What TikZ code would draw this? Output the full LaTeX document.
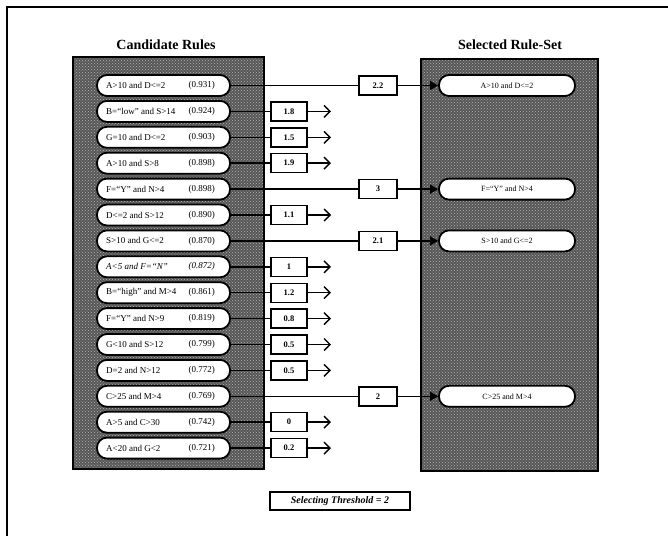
\documentclass[tikz,border=0pt]{standalone}
\usepackage{fontspec}
\setmainfont{Liberation Serif}
\usetikzlibrary{arrows.meta,patterns}
\begin{document}
\begin{tikzpicture}[x=1pt,y=-1pt,
  panelbox/.style={draw, line width=1.8pt, preaction={fill=black!66}, pattern=crosshatch dots, pattern color=white!70!black, inner sep=0pt},
  pill/.style={draw, line width=1.8pt, fill=white, rounded corners=10pt, minimum width=133pt, minimum height=21pt, inner sep=0pt},
  rpill/.style={pill, minimum width=136pt},
  rtxt/.style={font=\fontsize{9}{10}\selectfont, anchor=west, inner sep=0pt},
  stxt/.style={font=\fontsize{9}{10}\selectfont, anchor=east, inner sep=0pt},
  sctxt/.style={font=\fontsize{8}{9}\selectfont, inner sep=0pt},
  score/.style={draw, line width=1.4pt, fill=white, minimum width=36pt, minimum height=19pt, font=\fontsize{8.5}{9}\selectfont\bfseries, inner sep=0pt},
  sel/.style={score, minimum width=38pt},
  conn/.style={line width=1.5pt},
  rej/.style={conn, -{Straight Barb[length=6pt,width=12pt,line width=1.4pt]}},
  acc/.style={conn, -{Triangle[length=8pt,width=9pt]}},
  title/.style={font=\fontsize{14}{16}\selectfont\bfseries},
]
\useasboundingbox (0,0) rectangle (668,536);
\draw[line width=1.5pt] (7,536) -- (7,7) -- (668,7);

\node[title] (t1) at (166,45) {Candidate Rules};
\node[title] (t2) at (510,45) {Selected Rule-Set};

\node[panelbox, minimum width=191pt, minimum height=412pt] (lp) at (168.5,263) {};
\node[panelbox, minimum width=177pt, minimum height=412pt] (rp) at (509.5,265) {};

\foreach \n/\r/\s in {
  1/{A>10 and D<=2}/{(0.931)},
  2/{B=``low'' and S>14}/{(0.924)},
  3/{G=10 and D<=2}/{(0.903)},
  4/{A>10 and S>8}/{(0.898)},
  5/{F=``Y'' and N>4}/{(0.898)},
  6/{D<=2 and S>12}/{(0.890)},
  7/{S>10 and G<=2}/{(0.870)},
  8/{\itshape A<5 and F=``N''}/{\itshape (0.872)},
  9/{B=``high'' and M>4}/{(0.861)},
  10/{F=``Y'' and N>9}/{(0.819)},
  11/{G<10 and S>12}/{(0.799)},
  12/{D=2 and N>12}/{(0.772)},
  13/{C>25 and M>4}/{(0.769)},
  14/{A>5 and C>30}/{(0.742)},
  15/{A<20 and G<2}/{(0.721)}}{
  \pgfmathsetmacro{\yy}{85.5+(\n-1)*25.9}
  \node[pill] (r\n) at (163.5,\yy) {};
  \node[rtxt] (rt\n) at (106,\yy) {\r};
  \node[stxt] (st\n) at (215,\yy) {\s};
}

\foreach \n/\v in {2/1.8,3/1.5,4/1.9,6/1.1,8/1,9/1.2,10/0.8,11/0.5,12/0.5,14/0,15/0.2}{
  \pgfmathsetmacro{\yy}{85.5+(\n-1)*25.9}
  \node[score] (b\n) at (289,\yy) {\v};
  \coordinate (e\n) at (331,\yy);
  \draw[conn] (r\n.east) -- (b\n.west);
  \draw[rej] (b\n.east) -- (e\n);
}

\foreach \n/\v/\r in {1/2.2/{A>10 and D<=2},5/3/{F=``Y'' and N>4},7/2.1/{S>10 and G<=2},13/2/{C>25 and M>4}}{
  \pgfmathsetmacro{\yy}{85.5+(\n-1)*25.9}
  \node[rpill] (s\n) at (507,\yy) {};
  \node[sctxt] (sl\n) at (507,\yy) {\r};
  \node[sel] (b\n) at (378,\yy) {\v};
  \draw[conn] (r\n.east) -- (b\n.west);
  \draw[acc] (b\n.east) -- (s\n.west);
}

\node[draw, line width=1.4pt, minimum width=140pt, minimum height=18pt, inner sep=0pt,
  font=\fontsize{10}{12}\selectfont\bfseries\itshape] (th) at (340,501) {Selecting Threshold = 2};
\end{tikzpicture}
\end{document}
